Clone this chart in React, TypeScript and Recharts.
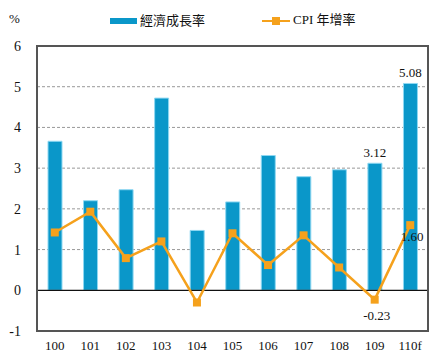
import React from 'react';
import { ComposedChart, Bar, Line, XAxis, YAxis, CartesianGrid, ReferenceLine, LabelList } from 'recharts';

const years = ['100', '101', '102', '103', '104', '105', '106', '107', '108', '109', '110f'];
const gdpGrowth = [3.66, 2.2, 2.47, 4.72, 1.47, 2.17, 3.31, 2.79, 2.96, 3.12, 5.08];
const cpiGrowth = [1.42, 1.93, 0.79, 1.2, -0.3, 1.4, 0.62, 1.35, 0.56, -0.23, 1.6];
const yTicks = [-1, 0, 1, 2, 3, 4, 5, 6];
const gridTicks = [1, 2, 3, 4, 5];
const gdpName = '經濟成長率';
const cpiName = 'CPI 年增率';
const labeledIndexes = [9, 10];

const data = years.map((y, i) => ({ year: y, gdp: gdpGrowth[i], cpi: cpiGrowth[i] }));

const BLUE = '#0a97c9';
const ORANGE = '#f5a11c';
const SERIF = '"Liberation Serif", "Noto Sans CJK TC", serif';

const SquareDot = (props: any) => {
  const { cx, cy } = props;
  if (cx == null || cy == null) return null;
  return <rect x={cx - 4} y={cy - 4} width={8} height={8} fill={ORANGE} />;
};

const BarTopLabel = (props: any) => {
  const { x, y, width, value, index } = props;
  if (!labeledIndexes.includes(index)) return null;
  return (
    <text x={x + width / 2} y={y - 6} textAnchor="middle" fontSize={13} fontFamily={SERIF} fill="#111">
      {Number(value).toFixed(2)}
    </text>
  );
};

const CpiLabel = (props: any) => {
  const { x, y, value, index } = props;
  if (!labeledIndexes.includes(index)) return null;
  const v = Number(value);
  const dy = v < 0 ? 20 : 16;
  return (
    <text x={x + 2} y={y + dy} textAnchor="middle" fontSize={13} fontFamily={SERIF} fill="#111">
      {v.toFixed(2)}
    </text>
  );
};

export default function App() {
  return (
    <div style={{ position: 'absolute', left: 0, top: 0, width: 442, height: 359, background: '#fff' }}>
      <div style={{ position: 'absolute', left: 9, top: 11, fontFamily: SERIF, fontSize: 13, color: '#111' }}>%</div>
      <div style={{ position: 'absolute', left: 110, top: 18, width: 27, height: 6, background: BLUE }} />
      <div style={{ position: 'absolute', left: 140, top: 12, fontFamily: '"Noto Sans CJK TC", sans-serif', fontSize: 13, lineHeight: '16px', color: '#111' }}>{gdpName}</div>
      <div style={{ position: 'absolute', left: 262, top: 20, width: 28, height: 2, background: ORANGE }} />
      <div style={{ position: 'absolute', left: 272, top: 17, width: 8, height: 8, background: ORANGE }} />
      <div style={{ position: 'absolute', left: 293, top: 12, fontSize: 13, lineHeight: '16px', fontFamily: SERIF, color: '#111' }}>{cpiName}</div>
      <ComposedChart width={442} height={359} data={data} margin={{ top: 46, right: 14, left: 7, bottom: 0 }}>
        <CartesianGrid vertical={false} horizontal horizontalValues={gridTicks} stroke="#999" strokeDasharray="3 2" />
        <XAxis dataKey="year" height={28} tickLine={false} axisLine={false}
          tick={{ fontSize: 13, fontFamily: SERIF, fill: '#111' }} interval={0} tickMargin={4} />
        <YAxis domain={[-1, 6]} ticks={yTicks} width={30} tickLine={false} axisLine={false}
          tick={{ fontSize: 14, fontFamily: SERIF, fill: '#111', dx: -8 }} />
        <ReferenceLine y={0} stroke="#111" strokeWidth={1.2} />
        <Bar dataKey="gdp" name={gdpName} fill={BLUE} stroke="#8fd8f2" strokeWidth={1} barSize={14} isAnimationActive={false}>
          <LabelList dataKey="gdp" content={<BarTopLabel />} />
        </Bar>
        <Line dataKey="cpi" name={cpiName} stroke={ORANGE} strokeWidth={2.5} dot={<SquareDot />} activeDot={false} isAnimationActive={false}>
          <LabelList dataKey="cpi" content={<CpiLabel />} />
        </Line>
      </ComposedChart>
      <div style={{ position: 'absolute', left: 36, top: 45, width: 389, height: 283, border: '2px solid #555', pointerEvents: 'none' }} />
    </div>
  );
}
